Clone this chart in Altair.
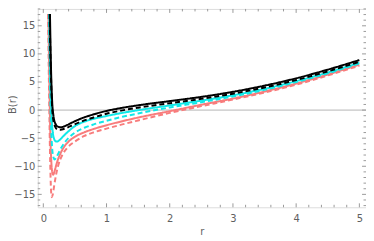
import altair as alt
import pandas as pd

# ---- data ----
r_bs = [0.105, 0.115, 0.125, 0.14, 0.16, 0.19, 0.23, 0.28, 0.35, 0.45, 0.6, 0.8, 1.0, 1.25, 1.5, 2.0, 2.5, 3.0, 3.5, 4.0, 4.5, 5.0]
b_bs = [17.1, 11, 6, 1.5, -1.0, -2.4, -2.95, -3.05, -2.8, -2.25, -1.5, -0.75, -0.15, 0.4, 0.85, 1.6, 2.35, 3.25, 4.35, 5.65, 7.2, 8.9]

r_bd = [0.1, 0.11, 0.12, 0.135, 0.155, 0.185, 0.22, 0.27, 0.33, 0.42, 0.6, 0.8, 1.0, 1.25, 1.5, 2.0, 2.5, 3.0, 3.5, 4.0, 4.5, 5.0]
b_bd = [17.1, 11, 6.5, 1.5, -1.5, -2.9, -3.4, -3.5, -3.35, -2.9, -2.05, -1.3, -0.65, -0.05, 0.43, 1.22, 2.0, 2.92, 4.03, 5.34, 6.89, 8.6]

r_cs = [0.095, 0.105, 0.115, 0.13, 0.15, 0.17, 0.195, 0.22, 0.26, 0.32, 0.4, 0.5, 0.65, 0.8, 1.0, 1.25, 1.5, 2.0, 2.5, 3.0, 3.5, 4.0, 4.5, 5.0]
b_cs = [17.1, 10, 4.5, -1.0, -4.0, -5.1, -5.55, -5.6, -5.3, -4.6, -3.75, -2.85, -2.05, -1.55, -1.05, -0.5, -0.02, 0.83, 1.68, 2.63, 3.78, 5.13, 6.68, 8.43]

r_cd = [0.09, 0.1, 0.11, 0.125, 0.14, 0.16, 0.18, 0.2, 0.23, 0.27, 0.33, 0.4, 0.5, 0.65, 0.8, 1.0, 1.25, 1.5, 2.0, 2.5, 3.0, 3.5, 4.0, 4.5, 5.0]
b_cd = [17.1, 9, 2.5, -3.5, -6.8, -8.4, -8.8, -8.55, -7.9, -7.0, -5.9, -4.95, -4.0, -3.15, -2.55, -1.9, -1.2, -0.6, 0.47, 1.4, 2.42, 3.6, 4.98, 6.55, 8.3]

r_rs = [0.08, 0.09, 0.1, 0.11, 0.125, 0.14, 0.155, 0.17, 0.19, 0.22, 0.26, 0.32, 0.4, 0.5, 0.65, 0.8, 1.0, 1.25, 1.5, 2.0, 2.5, 3.0, 3.5, 4.0, 4.5, 5.0]
b_rs = [17.1, 9, 2, -4, -8.8, -11.0, -11.5, -11.2, -10.4, -9.2, -8.0, -6.7, -5.6, -4.75, -3.95, -3.35, -2.7, -1.98, -1.33, -0.2, 0.95, 2.05, 3.3, 4.72, 6.33, 8.1]

r_rd = [0.075, 0.085, 0.095, 0.105, 0.115, 0.125, 0.135, 0.15, 0.17, 0.2, 0.24, 0.3, 0.38, 0.5, 0.65, 0.8, 1.0, 1.25, 1.5, 2.0, 2.5, 3.0, 3.5, 4.0, 4.5, 5.0]
b_rd = [17.1, 8, 0, -7, -12, -14.8, -15.5, -15.0, -13.6, -11.6, -9.7, -8.0, -6.7, -5.6, -4.6, -3.95, -3.3, -2.55, -1.85, -0.5, 0.7, 1.88, 3.12, 4.52, 6.16, 7.9]

x_major = [0, 1, 2, 3, 4, 5]
x_minor = [0.2, 0.4, 0.6, 0.8, 1.2, 1.4, 1.6, 1.8, 2.2, 2.4, 2.6, 2.8, 3.2, 3.4, 3.6, 3.8,
           4.2, 4.4, 4.6, 4.8]
y_major = [-15, -10, -5, 0, 5, 10, 15]
y_minor = [-17, -16, -14, -13, -12, -11, -9, -8, -7, -6, -4, -3, -2, -1,
           1, 2, 3, 4, 6, 7, 8, 9, 11, 12, 13, 14, 16, 17, 18]

# ---- styling ----
W, H = 331, 200
XDOM = [-0.088, 5.105]
YDOM = [-17.3, 18.0]
FRAME = "#9a9a9a"
TXT = "#606060"
FONT = "DejaVu Sans"

series = [
    ("rd", r_rd, b_rd, "#F87C7C", [5, 3]),
    ("rs", r_rs, b_rs, "#F87C7C", [1, 0]),
    ("cd", r_cd, b_cd, "#10E8E8", [5, 3]),
    ("cs", r_cs, b_cs, "#10E8E8", [1, 0]),
    ("bd", r_bd, b_bd, "#000000", [5, 3]),
    ("bs", r_bs, b_bs, "#000000", [1, 0]),
]

xs = alt.Scale(domain=XDOM, nice=False, zero=False)
ys = alt.Scale(domain=YDOM, nice=False, zero=False)

x_axis = alt.Axis(values=x_major, ticks=False, domain=False, grid=False, title="r",
                  labelFont=FONT, labelFontSize=10, labelColor=TXT, labelPadding=6,
                  titleFont=FONT, titleFontSize=10, titleColor=TXT, titleFontWeight="normal",
                  titleBaseline="alphabetic", titleY=27, labelFlush=False)
y_axis = alt.Axis(values=y_major, ticks=False, domain=False, grid=False, title="B(r)",
                  labelFont=FONT, labelFontSize=10, labelColor=TXT, labelPadding=3,
                  titleFont=FONT, titleFontSize=10, titleColor=TXT, titleFontWeight="normal",
                  titleBaseline="alphabetic", titleX=-22.5, titleY=96, titleAngle=-90,
                  labelFlush=False)

X = alt.X("r:Q", scale=xs, axis=x_axis)
Y = alt.Y("B:Q", scale=ys, axis=y_axis)

layers = []

zero = alt.Chart(pd.DataFrame({"z": [0]})).mark_rule(color="#b4b4b4", strokeWidth=1).encode(
    y=alt.Y("z:Q", scale=ys, axis=y_axis)
)
layers.append(zero)

for name, rr, bb, col, dash in series:
    df = pd.DataFrame({"r": rr, "B": bb})
    ln = alt.Chart(df).mark_line(color=col, strokeWidth=2, strokeDash=dash,
                                 interpolate="monotone", clip=True).encode(x=X, y=Y)
    layers.append(ln)

# frame ticks (pointing inward)
def xticks(vals, length):
    d = pd.DataFrame({"t": vals})
    xe = alt.X("t:Q", scale=xs, axis=x_axis)
    bot = alt.Chart(d).mark_rule(color=FRAME, strokeWidth=1).encode(
        x=xe, y=alt.value(H), y2=alt.value(H - length))
    top = alt.Chart(d).mark_rule(color=FRAME, strokeWidth=1).encode(
        x=xe, y=alt.value(0), y2=alt.value(length))
    return [bot, top]

def yticks(vals, length):
    d = pd.DataFrame({"t": vals})
    ye = alt.Y("t:Q", scale=ys, axis=y_axis)
    left = alt.Chart(d).mark_rule(color=FRAME, strokeWidth=1).encode(
        y=ye, x=alt.value(0), x2=alt.value(length))
    right = alt.Chart(d).mark_rule(color=FRAME, strokeWidth=1).encode(
        y=ye, x=alt.value(W), x2=alt.value(W - length))
    return [left, right]

layers += xticks(x_major, 4) + xticks(x_minor, 2.5)
layers += yticks(y_major, 4) + yticks(y_minor, 2.5)

chart = alt.layer(*layers).properties(
    width=W, height=H,
    padding={"left": 30, "top": 0, "right": 0, "bottom": 28},
    autosize=alt.AutoSizeParams(type="none"),
).configure_view(stroke=FRAME, strokeWidth=1).configure(background="white")

chart.save("out.html", embed_options={"renderer": "svg", "actions": False})
